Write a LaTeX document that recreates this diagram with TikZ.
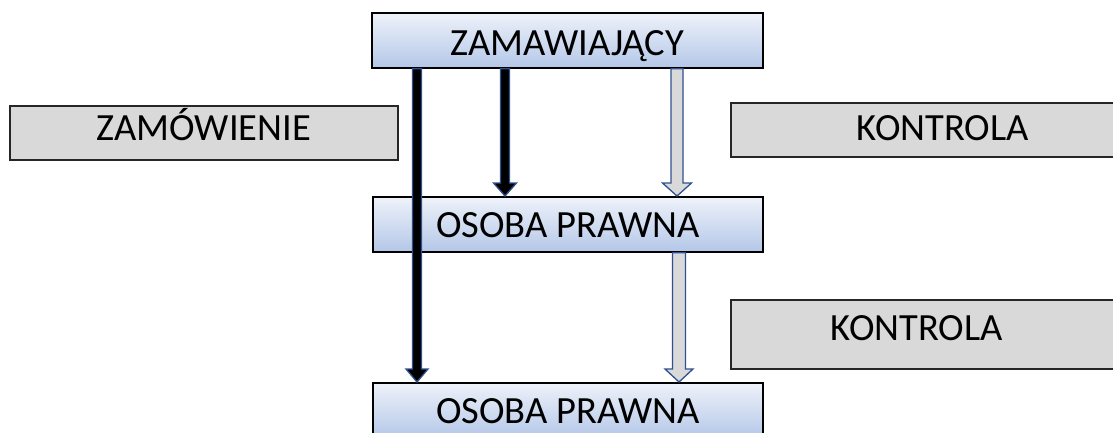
\documentclass[tikz,border=0pt]{standalone}
\usepackage{fontspec}
\setmainfont{Carlito}
\usetikzlibrary{calc}
\definecolor{boxtop}{HTML}{EEF2FA}
\definecolor{boxbot}{HTML}{B4C7E8}
\definecolor{greyfill}{HTML}{D9D9D9}
\definecolor{arrline}{HTML}{2F528F}
\newcommand\blockarr[6]{%
  \draw[#1] let \p1=(#3.south), \p2=(#4.north) in
    (#2pt-#5pt,\y1) -- (#2pt+#5pt,\y1) -- (#2pt+#5pt,\y2+13pt) -- (#2pt+#6pt,\y2+13pt)
    -- (#2pt,\y2) -- (#2pt-#6pt,\y2+13pt) -- (#2pt-#5pt,\y2+13pt) -- cycle;}
\begin{document}
\begin{tikzpicture}[x=1pt,y=-1pt,
  bigfont/.style={font=\fontsize{38.5}{42}\selectfont},
  bluebox/.style={draw=black, line width=1.8pt, top color=boxtop, bottom color=boxbot,
    inner sep=0pt, bigfont, anchor=north west},
  greybox/.style={draw=black!85, line width=1.5pt, fill=greyfill, inner sep=0pt,
    bigfont, anchor=north west},
  blackarrow/.style={draw=arrline, line width=1.3pt, fill=black, line join=miter},
  greyarrow/.style={draw=arrline, line width=1.3pt, fill=greyfill, line join=miter}]
\useasboundingbox (0,0) rectangle (1113,432);
\clip (0,0) rectangle (1113,432);

\node[bluebox, minimum width=391, text height=43pt, text depth=12pt] (zam) at (371,12) {ZAMAWIAJĄCY};
\node[bluebox, minimum width=390, text height=41pt, text depth=14pt] (os1) at (372,196) {OSOBA PRAWNA};
\node[bluebox, minimum width=390, text height=41pt, text depth=14pt] (os2) at (372,382) {OSOBA PRAWNA};

\node[greybox, minimum width=388, text height=35pt, text depth=19pt] (zamow) at (9,105) {ZAMÓWIENIE};
\node[greybox, minimum width=424, text height=38pt, text depth=16pt] (kon1) at (730,102) {KONTROLA};
\node[greybox, minimum width=400, text height=41pt, text depth=28pt] (kon2) at (730,299) {KONTROLA\hspace*{28pt}};

\blockarr{blackarrow}{417}{zam}{os2}{4.5}{11}
\blockarr{blackarrow}{505}{zam}{os1}{4.5}{11.5}
\blockarr{greyarrow}{677}{zam}{os1}{6}{14.5}
\blockarr{greyarrow}{679}{os1}{os2}{6.5}{14}
\end{tikzpicture}
\end{document}
